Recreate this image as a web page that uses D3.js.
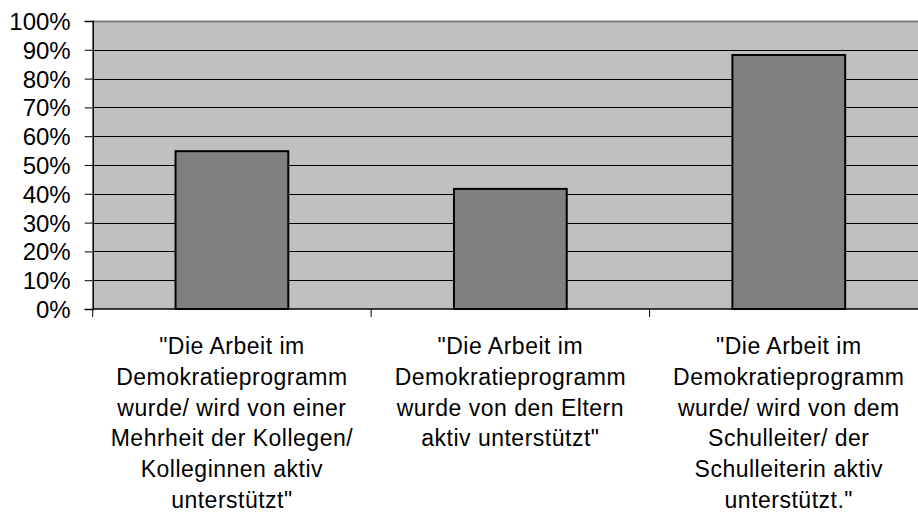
<!DOCTYPE html>
<html>
<head>
<meta charset="utf-8">
<script src="https://cdn.jsdelivr.net/npm/d3@7"></script>
<style>
  body { margin: 0; background: #fff; }
  svg { display: block; font-family: "Liberation Sans", Arial, sans-serif; }
</style>
</head>
<body>
<svg id="chart" width="918" height="515"></svg>
<script>
const categories = ["cat1", "cat2", "cat3"];
const categoryLabels = [
  ["\"Die Arbeit im", "Demokratieprogramm", "wurde/ wird von einer", "Mehrheit der Kollegen/", "Kolleginnen aktiv", "unterstützt\""],
  ["\"Die Arbeit im", "Demokratieprogramm", "wurde von den Eltern", "aktiv unterstützt\""],
  ["\"Die Arbeit im", "Demokratieprogramm", "wurde/ wird von dem", "Schulleiter/ der", "Schulleiterin aktiv", "unterstützt.\""]
];
const values = [54.8, 41.7, 88.2];
const yTicks = [0, 10, 20, 30, 40, 50, 60, 70, 80, 90, 100];

(function () {
const svg = d3.select("#chart");
const mLeft = 92.7, mRight = 928, mTop = 21, mBottom = 309;

const x = d3.scaleBand().domain(categories).range([mLeft, mRight])
  .paddingInner(0.595).paddingOuter(0.2975);
const y = d3.scaleLinear().domain([0, 100]).range([mBottom, mTop]);

// plot background
svg.append("rect").attr("x", mLeft).attr("y", mTop)
  .attr("width", mRight - mLeft).attr("height", mBottom - mTop)
  .attr("fill", "#c0c0c0");

// gridlines
svg.append("g").selectAll("line").data(yTicks.filter(d => d > 0)).join("line")
  .attr("x1", mLeft).attr("x2", mRight)
  .attr("y1", d => Math.round(y(d)) + 0.5).attr("y2", d => Math.round(y(d)) + 0.5)
  .attr("stroke", d => d === 100 ? "#808080" : "#000")
  .attr("stroke-width", d => d === 100 ? 2 : 1);

// bars
svg.append("g").selectAll("rect").data(categories).join("rect")
  .attr("x", d => x(d)).attr("width", x.bandwidth())
  .attr("y", (d, i) => y(values[i])).attr("height", (d, i) => mBottom - y(values[i]))
  .attr("fill", "#808080").attr("stroke", "#000").attr("stroke-width", 2);

// y axis
const yAxis = svg.append("g").attr("transform", `translate(${mLeft},0)`)
  .call(d3.axisLeft(y).tickValues(yTicks).tickSize(8).tickPadding(14).tickFormat(d => d + "%"));
yAxis.select(".domain").attr("stroke", "#000").attr("stroke-width", 1.5);
yAxis.selectAll(".tick line").attr("stroke", "#000");
yAxis.selectAll(".tick text").attr("font-size", 24).attr("fill", "#000")
  .attr("font-family", "'Liberation Sans', Arial, sans-serif").attr("dy", "0.35em");

// x axis line and ticks at slot boundaries
svg.append("line").attr("x1", mLeft).attr("x2", mRight).attr("y1", mBottom).attr("y2", mBottom)
  .attr("stroke", "#000").attr("stroke-width", 1.5);
const bounds = categories.map(c => x(c) + x.bandwidth() / 2 - x.step() / 2);
bounds.push(mRight);
svg.append("g").selectAll("line").data(bounds).join("line")
  .attr("x1", d => d).attr("x2", d => d).attr("y1", mBottom).attr("y2", mBottom + 8)
  .attr("stroke", "#000");

// category labels
const labels = svg.append("g");
categories.forEach((c, i) => {
  const cx = x(c) + x.bandwidth() / 2;
  const t = labels.append("text").attr("text-anchor", "middle")
    .attr("font-size", 23).attr("letter-spacing", 0.5).attr("fill", "#000");
  categoryLabels[i].forEach((line, j) => {
    t.append("tspan").attr("x", cx).attr("y", 354 + j * 30.8).text(line);
  });
});
})();
</script>
</body>
</html>
